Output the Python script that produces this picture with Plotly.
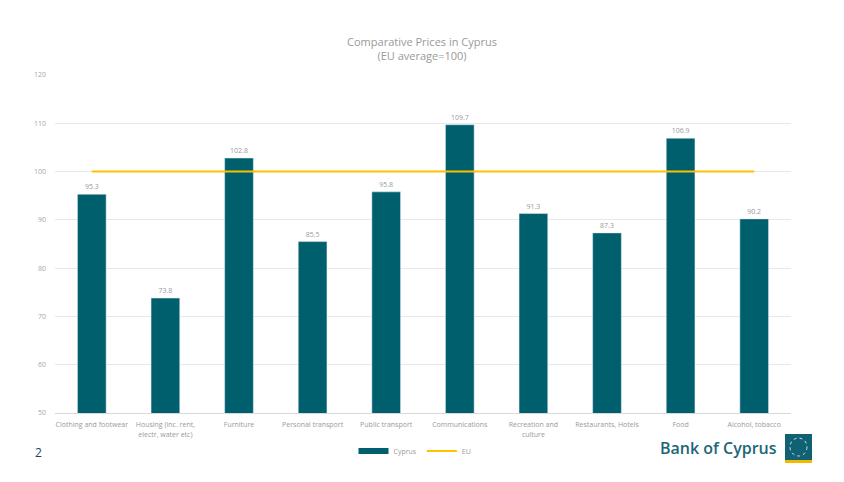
import plotly.graph_objects as go

categories = ["Clothing and footwear", "Housing (inc. rent,<br>electr, water etc)", "Furniture",
              "Personal transport", "Public transport", "Communications",
              "Recreation and<br>culture", "Restaurants, Hotels", "Food", "Alcohol, tobacco"]
cyprus = [95.3, 73.8, 102.8, 85.5, 95.8, 109.7, 91.3, 87.3, 106.9, 90.2]
eu = [100] * len(categories)

W, H = 844, 482
L, R, T, B = 55, 791, 75, 413
TEAL = "#005F6D"

def px(x):
    return (x - L) / (R - L)

def py(y):
    return (B - y) / (B - T)

fig = go.Figure()
fig.add_trace(go.Bar(
    x=categories, y=cyprus, name="Cyprus", marker_color=TEAL,
    text=[f"{v:.1f}" for v in cyprus], textposition="outside",
    textfont=dict(size=7, color="#9a9a9a"), cliponaxis=False, showlegend=False,
))
# legend entry for bars drawn as a wide rectangle
fig.add_trace(go.Scatter(
    x=[None], y=[None], name="Cyprus", mode="lines",
    line=dict(color=TEAL, width=6),
))
fig.add_trace(go.Scatter(
    x=categories, y=eu, name="EU", mode="lines",
    line=dict(color="#FFC000", width=2),
))

fig.update_layout(
    width=W, height=H,
    margin=dict(l=L, r=W - R, t=T, b=H - B),
    paper_bgcolor="white", plot_bgcolor="white",
    font=dict(family="Open Sans, sans-serif", color="#9a9a9a"),
    title=dict(text="Comparative Prices in Cyprus<br>(EU average=100)",
               x=0.5, xanchor="center", y=1 - 46 / H, yanchor="top",
               font=dict(size=11, color="#999999")),
    bargap=0.61,
    showlegend=True,
    legend=dict(orientation="h", x=px(415), xanchor="center", y=py(451), yanchor="middle",
                font=dict(size=7, color="#9a9a9a"), itemwidth=30, tracegroupgap=0),
    xaxis=dict(showgrid=False, showline=True, linecolor="#d9d9d9", linewidth=1,
               ticks="", tickfont=dict(size=7, color="#9a9a9a"), ticklabelstandoff=5),
    yaxis=dict(range=[50, 120], dtick=10, showgrid=True, gridcolor="#e8e8e8",
               zeroline=False, tickfont=dict(size=7, color="#a6a6a6"), ticklen=0,
               ticklabelstandoff=8),
)

# page number
fig.add_annotation(text="2", xref="paper", yref="paper", x=px(38), y=py(452),
                   showarrow=False, font=dict(size=12, color="#1f3f5a"),
                   xanchor="center", yanchor="middle")
# logo text
fig.add_annotation(text="Bank of Cyprus", xref="paper", yref="paper", x=px(779), y=py(448),
                   showarrow=False,
                   font=dict(size=16, color="#1d6676", family="Open Sans, sans-serif", weight=600),
                   xanchor="right", yanchor="middle")
# logo icon
fig.add_shape(type="rect", xref="paper", yref="paper", x0=px(785), x1=px(812),
              y0=py(460), y1=py(434), fillcolor="#0f6173", line_width=0)
fig.add_shape(type="rect", xref="paper", yref="paper", x0=px(785), x1=px(812),
              y0=py(463), y1=py(460), fillcolor="#F5B800", line_width=0)
fig.add_shape(type="circle", xref="paper", yref="paper", x0=px(790), x1=px(807),
              y0=py(456), y1=py(438), fillcolor="rgba(0,0,0,0)",
              line=dict(color="#cfe0e4", width=1, dash="dot"))

fig.write_html("out.html")
